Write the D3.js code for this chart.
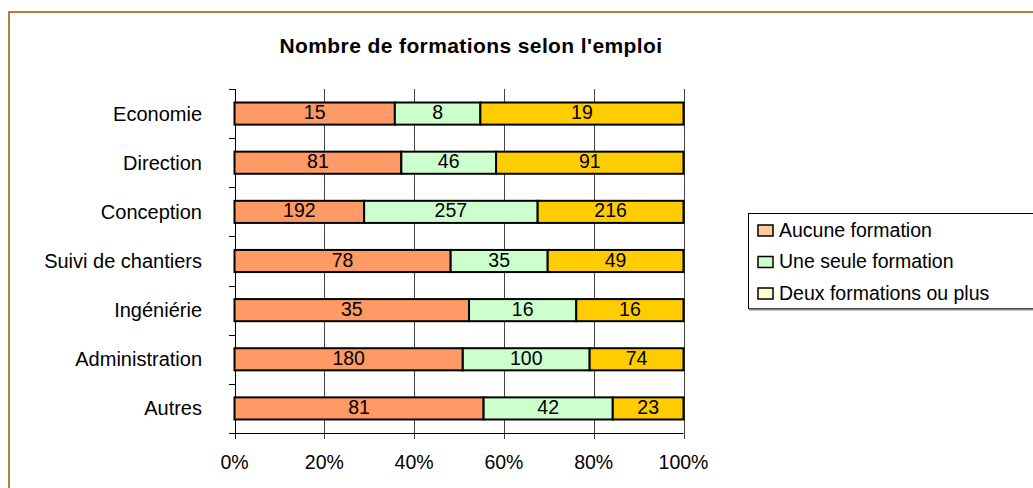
<!DOCTYPE html>
<html><head><meta charset="utf-8">
<script src="https://cdn.jsdelivr.net/npm/d3@7"></script>
<style>body{margin:0;background:#fff}svg{display:block;font-family:"Liberation Sans",Arial,sans-serif}</style>
</head><body>
<svg id="c" width="1033" height="488"></svg>
<script>
const categories = ["Economie","Direction","Conception","Suivi de chantiers","Ingéniérie","Administration","Autres"];
const seriesNames = ["Aucune formation","Une seule formation","Deux formations ou plus"];
const aucune = [15,81,192,78,35,180,81];
const uneSeule = [8,46,257,35,16,100,42];
const deuxPlus = [19,91,216,49,16,74,23];
const tickValues = [0,0.2,0.4,0.6,0.8,1];
const barColors = ["#ff9966","#ccffcc","#ffcc00"];
const legendColors = ["#ffcc99","#ccffcc","#ffffcc"];

const svg = d3.select("#c");
// outer border
svg.append("rect").attr("x",9).attr("y",12).attr("width",1100).attr("height",600)
  .attr("fill","none").attr("stroke","#b97a42").attr("stroke-width",2);

svg.append("text").attr("x",471).attr("y",53).attr("text-anchor","middle")
  .attr("font-weight","bold").attr("font-size",21).attr("letter-spacing",0.4)
  .text("Nombre de formations selon l'emploi");

const x = d3.scaleLinear().domain([0,1]).range([234.5,683.5]);
const y = d3.scaleBand().domain(categories).range([89,433]).paddingInner(0.55).paddingOuter(0.275);
const yb = d3.scaleBand().domain(categories).range([89,433]);

// gridlines + ticks
svg.append("g").selectAll("line").data(tickValues).join("line")
  .attr("x1",d=>Math.round(x(d))+0.5).attr("x2",d=>Math.round(x(d))+0.5)
  .attr("y1",89).attr("y2",439).attr("stroke",d=>d===0?"#000":"#444").attr("stroke-width",1);

// y ticks at band boundaries
const bounds = categories.map(c=>yb(c)).concat([433]);
svg.append("g").selectAll("line").data(bounds).join("line")
  .attr("x1",229).attr("x2",235).attr("y1",d=>Math.round(d)+0.5).attr("y2",d=>Math.round(d)+0.5)
  .attr("stroke","#000");
svg.append("line").attr("x1",234.5).attr("x2",683.5).attr("y1",433.5).attr("y2",433.5).attr("stroke","#000");

// x tick labels
svg.append("g").selectAll("text").data(tickValues).join("text")
  .attr("x",d=>x(d)).attr("y",469).attr("text-anchor","middle").attr("font-size",19.5)
  .text(d3.format(".0%"));

// y labels
svg.append("g").selectAll("text").data(categories).join("text")
  .attr("x",202).attr("y",d=>yb(d)+yb.bandwidth()/2+7).attr("text-anchor","end").attr("font-size",20)
  .text(d=>d);

// stacked bars
const rows = categories.map((c,i)=>({cat:c,vals:[aucune[i],uneSeule[i],deuxPlus[i]]}));
rows.forEach(r=>{
  const tot = d3.sum(r.vals);
  let cum = 0;
  r.segs = r.vals.map((v,k)=>{const s={cat:r.cat,v:v,k:k,x0:cum/tot,x1:(cum+v)/tot};cum+=v;return s;});
});
const segs = rows.flatMap(r=>r.segs);
svg.append("g").selectAll("rect").data(segs).join("rect")
  .attr("x",d=>x(d.x0)).attr("width",d=>x(d.x1)-x(d.x0))
  .attr("y",d=>y(d.cat)).attr("height",y.bandwidth())
  .attr("fill",d=>barColors[d.k]).attr("stroke","#000").attr("stroke-width",2);
svg.append("g").selectAll("text").data(segs).join("text")
  .attr("x",d=>(x(d.x0)+x(d.x1))/2).attr("y",d=>y(d.cat)+y.bandwidth()/2+5.5)
  .attr("text-anchor","middle").attr("font-size",19.5).text(d=>d.v);

// legend
const lg = svg.append("g");
lg.append("rect").attr("x",748.5).attr("y",213.5).attr("width",400).attr("height",95)
  .attr("fill","#fff").attr("stroke","#000").attr("stroke-width",1);
lg.append("line").attr("x1",749).attr("x2",1040).attr("y1",309.5).attr("y2",309.5).attr("stroke","#888").attr("stroke-width",2);
seriesNames.forEach((n,i)=>{
  const cy = 230 + i*31.5;
  lg.append("rect").attr("x",758).attr("y",cy-5).attr("width",15).attr("height",11)
    .attr("fill",legendColors[i]).attr("stroke","#000").attr("stroke-width",1.5);
  lg.append("text").attr("x",779).attr("y",cy+6.5).attr("font-size",19.5).text(n);
});
</script>
</body></html>
